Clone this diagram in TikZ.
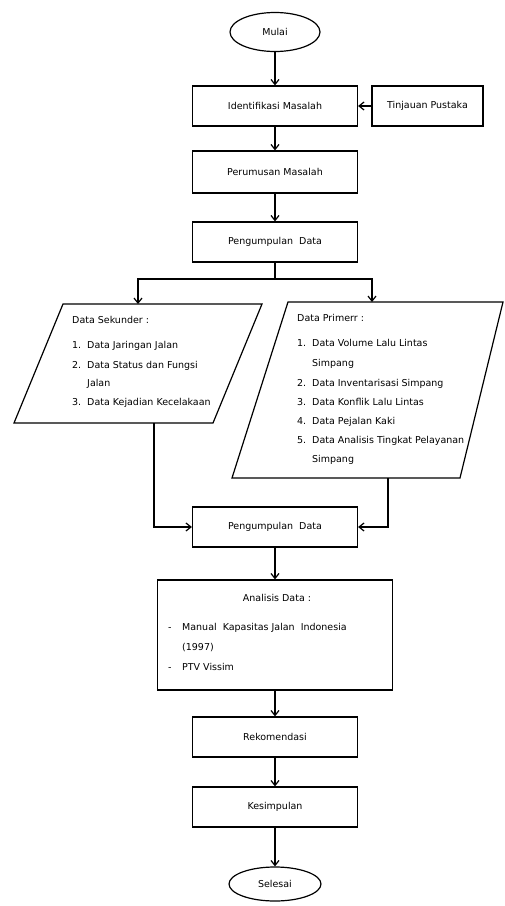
\documentclass[tikz,border=0pt]{standalone}
\usepackage{fontspec}
\setmainfont{DejaVu Sans}
\usetikzlibrary{shapes.geometric,arrows.meta}
\begin{document}
\begin{tikzpicture}[x=1pt,y=-1pt,
  lbl/.style={font=\fontsize{9.5}{11}\selectfont},
  box/.style={draw,line width=1.2pt,minimum width=165pt,minimum height=40pt,inner sep=0pt,lbl},
  term/.style={draw,ellipse,line width=1.2pt,minimum width=90pt,minimum height=39pt,inner sep=0pt,lbl},
  arr/.style={line width=1.2pt,-{Straight Barb[length=5pt,width=8pt]}},
  ln/.style={line width=1.2pt},
  txt/.style={anchor=base west,inner sep=0pt,lbl}]
\useasboundingbox (0,0) rectangle (504,906);
\fill[white] (0,0) rectangle (504,906);
% top chain
\node[term] (mulai) at (275,32) {Mulai};
\node[box] (ident) at (275,106) {Identifikasi Masalah};
\node[box,minimum width=111pt] (tinj) at (427.5,106) {Tinjauan Pustaka};
\node[box,minimum height=42pt] (perum) at (275,172) {Perumusan Masalah};
\node[box] (kump1) at (275,242) {Pengumpulan\ \ Data};
\draw[arr] (mulai) -- (ident);
\draw[arr] (tinj) -- (ident);
\draw[arr] (ident) -- (perum);
\draw[arr] (perum) -- (kump1);
% split
\coordinate (split) at (275,279);
\coordinate (sekTop) at (138,304);
\coordinate (primTop) at (372,302);
\draw[ln] (kump1.south) -- (split);
\draw[arr] (split) -| (sekTop);
\draw[arr] (split) -| (primTop);
% parallelograms
\draw[ln] (63,304) -- (262,304) -- (213,423) -- (14,423) -- cycle;
\draw[ln] (288,302) -- (503,302) -- (460,478) -- (232,478) -- cycle;
\node[txt] (s0) at (72,323) {Data Sekunder :};
\node[txt] (s1n) at (72,348) {1.};
\node[txt] (s1) at (87,348) {Data Jaringan Jalan};
\node[txt] (s2n) at (72,368) {2.};
\node[txt] (s2) at (87,368) {Data Status dan Fungsi};
\node[txt] (s2b) at (87,386) {Jalan};
\node[txt] (s3n) at (72,405) {3.};
\node[txt] (s3) at (87,405) {Data Kejadian Kecelakaan};
\node[txt] (p0) at (297,321) {Data Primerr :};
\node[txt] (p1n) at (297,346) {1.};
\node[txt] (p1) at (312,346) {Data Volume Lalu Lintas};
\node[txt] (p1b) at (312,366) {Simpang};
\node[txt] (p2n) at (297,386) {2.};
\node[txt] (p2) at (312,386) {Data Inventarisasi Simpang};
\node[txt] (p3n) at (297,405) {3.};
\node[txt] (p3) at (312,405) {Data Konflik Lalu Lintas};
\node[txt] (p4n) at (297,424) {4.};
\node[txt] (p4) at (312,424) {Data Pejalan Kaki};
\node[txt] (p5n) at (297,443) {5.};
\node[txt] (p5) at (312,443) {Data Analisis Tingkat Pelayanan};
\node[txt] (p5b) at (312,462) {Simpang};
% merge
\node[box] (kump2) at (275,527) {Pengumpulan\ \ Data};
\coordinate (sekBot) at (154,423);
\coordinate (primBot) at (388,478);
\draw[arr] (sekBot) |- (kump2.west);
\draw[arr] (primBot) |- (kump2.east);
% analysis
\node[box,minimum width=235pt,minimum height=110pt] (anal) at (275,635) {};
\node[lbl,anchor=base,inner sep=0pt] (a0) at (277,601) {Analisis Data :};
\node[txt] (a1d) at (168,630) {-};
\node[txt] (a1) at (182,630) {Manual\ \ Kapasitas Jalan\ \ Indonesia};
\node[txt] (a1b) at (182,650) {(1997)};
\node[txt] (a2d) at (168,670) {-};
\node[txt] (a2) at (182,670) {PTV Vissim};
\draw[arr] (kump2) -- (anal);
% bottom chain
\node[box] (rekom) at (275,737) {Rekomendasi};
\node[box] (kesim) at (275,807) {Kesimpulan};
\node[term,minimum width=92pt,minimum height=34pt] (selesai) at (275,884) {Selesai};
\draw[arr] (anal) -- (rekom);
\draw[arr] (rekom) -- (kesim);
\draw[arr] (kesim) -- (selesai);
\end{tikzpicture}
\end{document}
